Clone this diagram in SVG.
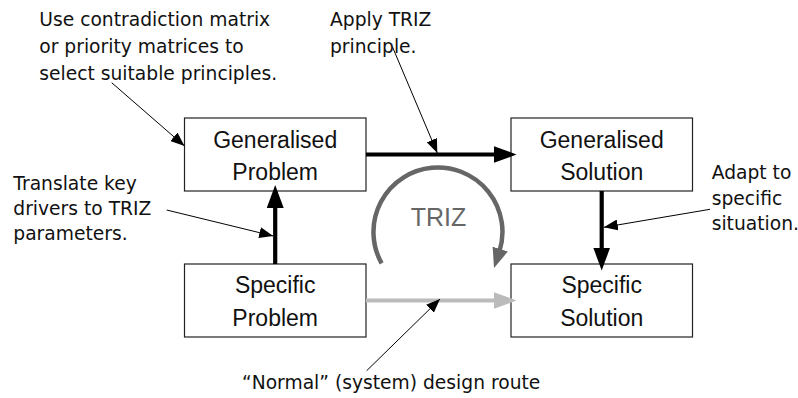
<svg xmlns="http://www.w3.org/2000/svg" width="798" height="398" viewBox="0 0 798 398">
<style>
.box{fill:#fff;stroke:#222;stroke-width:1.2}
.bt{font-family:"Liberation Sans",Arial,sans-serif;font-size:23px;fill:#111;text-anchor:middle}
.an{font-family:"DejaVu Sans",sans-serif;font-size:18.7px;fill:#111}
.thick{stroke:#000;stroke-width:4.2;fill:none}
.grey{stroke:#bbb;stroke-width:4.2;fill:none}
.thin{stroke:#000;stroke-width:1;fill:none}
</style>
<defs>
<marker id="ah" markerUnits="userSpaceOnUse" markerWidth="23" markerHeight="17" refX="5" refY="8.5" orient="auto"><path d="M0,0 L23,8.5 L0,17 z" fill="#000"/></marker>
<marker id="ahg" markerUnits="userSpaceOnUse" markerWidth="23" markerHeight="17" refX="5" refY="8.5" orient="auto"><path d="M0,0 L23,8.5 L0,17 z" fill="#bbb"/></marker>
<marker id="aht" markerUnits="userSpaceOnUse" markerWidth="14" markerHeight="11" refX="14" refY="5.5" orient="auto"><path d="M0,0 L14,5.5 L0,11 z" fill="#000"/></marker>
<marker id="ahc" markerUnits="userSpaceOnUse" markerWidth="20" markerHeight="16" refX="3" refY="8" orient="auto"><path d="M0,0 L20,8 L0,16 z" fill="#666"/></marker>
</defs>
<g id="gen-problem">
<rect class="box" x="184.5" y="118" width="181.5" height="73"/>
<text class="bt" x="275.2" y="147.5">Generalised</text>
<text class="bt" x="275.2" y="180">Problem</text>
</g>
<g id="gen-solution">
<rect class="box" x="511" y="118" width="181.5" height="73"/>
<text class="bt" x="601.7" y="147.5">Generalised</text>
<text class="bt" x="601.7" y="180">Solution</text>
</g>
<g id="spec-problem">
<rect class="box" x="184.5" y="264" width="181.5" height="73"/>
<text class="bt" x="275.2" y="293.3">Specific</text>
<text class="bt" x="275.2" y="325.5">Problem</text>
</g>
<g id="spec-solution">
<rect class="box" x="511" y="264" width="181.5" height="73"/>
<text class="bt" x="601.7" y="293.3">Specific</text>
<text class="bt" x="601.7" y="325.5">Solution</text>
</g>
<g id="triz-cycle">
<path d="M381.6,263.3 A64.5,64.5 0 1 1 499.3,251.9" stroke="#666" stroke-width="4.5" fill="none" marker-end="url(#ahc)"/>
<text x="438.5" y="226" font-family="Liberation Sans,Arial,sans-serif" font-size="25" fill="#666" text-anchor="middle">TRIZ</text>
</g>
<g id="connectors">
<line class="thick" x1="366" y1="154.5" x2="498.5" y2="154.5" marker-end="url(#ah)"/>
<line class="thick" x1="275.2" y1="264" x2="275.2" y2="203" marker-end="url(#ah)"/>
<line class="thick" x1="601.7" y1="191" x2="601.7" y2="252.5" marker-end="url(#ah)"/>
<line class="grey" x1="366" y1="300.5" x2="498.5" y2="300.5" marker-end="url(#ahg)"/>
<line class="thin" x1="111.7" y1="82.7" x2="184.5" y2="146" marker-end="url(#aht)"/>
<line class="thin" x1="392.5" y1="47" x2="437.3" y2="153" marker-end="url(#aht)"/>
<line class="thin" x1="166.7" y1="210" x2="273.2" y2="236" marker-end="url(#aht)"/>
<line class="thin" x1="710" y1="209.3" x2="603.8" y2="227.3" marker-end="url(#aht)"/>
<line class="thin" x1="366.7" y1="370.7" x2="440" y2="299" marker-end="url(#aht)"/>
</g>
<g id="annotations">
<text class="an" x="39.3" y="26.3">Use contradiction matrix</text>
<text class="an" x="39.3" y="53">or priority matrices to</text>
<text class="an" x="39.3" y="79.8">select suitable principles.</text>
<text class="an" x="330" y="26.3">Apply TRIZ</text>
<text class="an" x="330" y="53">principle.</text>
<text class="an" x="13.3" y="189.5">Translate key</text>
<text class="an" x="13.3" y="214.8">drivers to TRIZ</text>
<text class="an" x="13.3" y="240.3">parameters.</text>
<text class="an" x="711.7" y="179.3">Adapt to</text>
<text class="an" x="711.7" y="204.6">specific</text>
<text class="an" x="711.7" y="230">situation.</text>
<text class="an" x="242" y="389.3">“Normal” (system) design route</text>
</g>
</svg>
